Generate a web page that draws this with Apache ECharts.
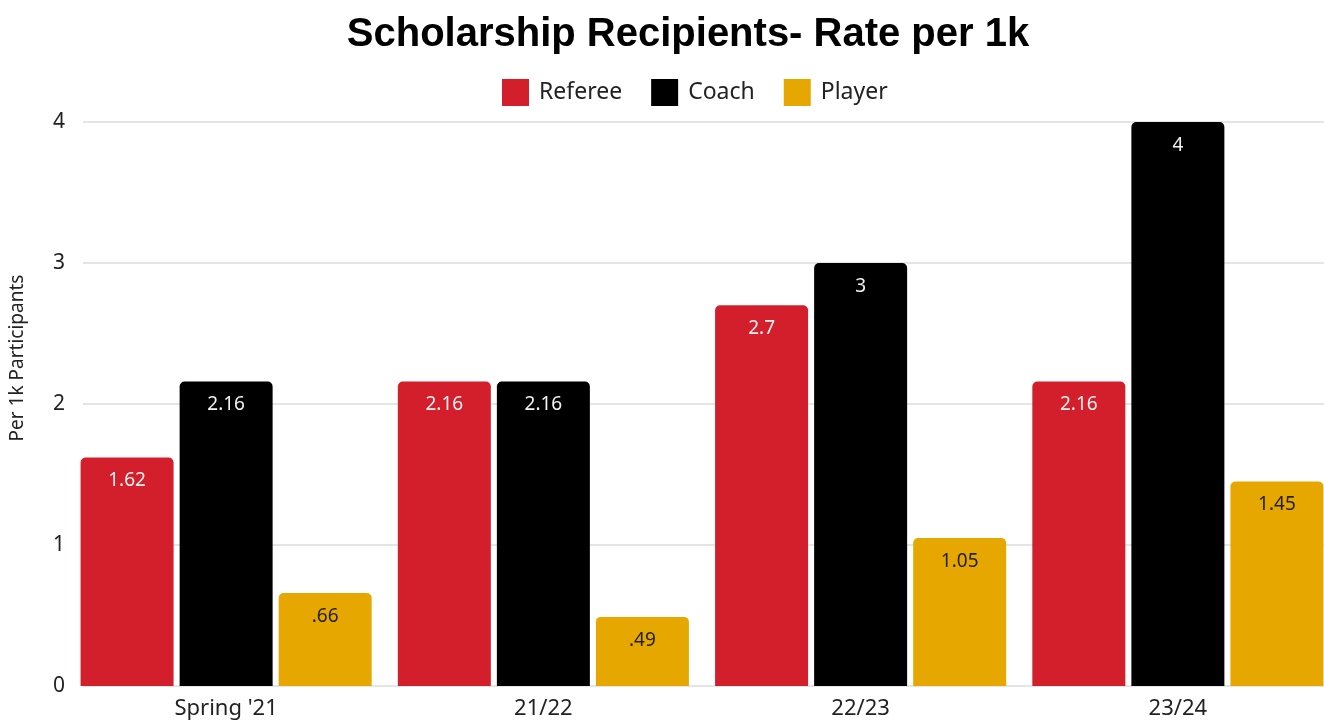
<!DOCTYPE html>
<html>
<head>
<meta charset="utf-8">
<script src="https://cdn.jsdelivr.net/npm/echarts@6/dist/echarts.min.js"></script>
<style>
html,body{margin:0;padding:0;background:#fff;}
#chart{width:1324px;height:725px;}
</style>
</head>
<body>
<div id="chart"></div>
<script>
const categories = ["Spring '21", "21/22", "22/23", "23/24"];
const referee = [1.62, 2.16, 2.7, 2.16];
const coach = [2.16, 2.16, 3, 4];
const player = [0.66, 0.49, 1.05, 1.45];
const refereeLabels = ["1.62", "2.16", "2.7", "2.16"];
const coachLabels = ["2.16", "2.16", "3", "4"];
const playerLabels = [".66", ".49", "1.05", "1.45"];
const yTicks = [0, 1, 2, 3, 4];
const titleText = 'Scholarship Recipients- Rate per 1k';

const chart = echarts.init(document.getElementById('chart'));
const font = "'Noto Sans', sans-serif";

function mk(name, data, labels, color, labelColor) {
  return {
    name: name, type: 'bar', xAxisIndex: 1, yAxisIndex: 1,
    data: data, barWidth: 93, barGap: '6.5%',
    itemStyle: { color: color, borderRadius: [5, 5, 0, 0] },
    label: {
      show: true, position: 'insideTop', distance: 14,
      color: labelColor, fontSize: 19, fontFamily: font,
      formatter: p => labels[p.dataIndex]
    }
  };
}

chart.setOption({
  animation: false,
  backgroundColor: '#fff',
  title: {
    text: titleText,
    left: 683, textAlign: 'center', top: 10,
    textStyle: { fontFamily: "'Liberation Sans', Arial, sans-serif", fontWeight: 'bold', fontSize: 40, color: '#000' }
  },
  legend: {
    top: 74, left: 497,
    itemWidth: 27, itemHeight: 27, itemGap: 29,
    icon: 'rect',
    textStyle: { fontFamily: font, fontSize: 23, color: '#222', padding: [0, 0, 0, 5] },
    data: ['Referee', 'Coach', 'Player']
  },
  grid: [
    { left: 80, right: 0, top: 122, bottom: 39 },
    { left: 67.5, width: 1269, top: 122, bottom: 39, outerBoundsMode: 'none' }
  ],
  xAxis: [
    { type: 'category', gridIndex: 0, data: categories, show: false },
    {
      type: 'category', gridIndex: 1, data: categories,
      axisLine: { show: false }, axisTick: { show: false },
      axisLabel: { fontFamily: font, fontSize: 22, color: '#222', margin: 12 }
    }
  ],
  yAxis: [
    {
      type: 'value', gridIndex: 0, min: yTicks[0], max: yTicks[yTicks.length - 1], interval: 1,
      axisLine: { show: false }, axisTick: { show: false },
      axisLabel: { fontFamily: font, fontSize: 21, color: '#222', margin: 18 },
      splitLine: { lineStyle: { color: '#dcdcdc', width: 1.5 } },
      name: 'Per 1k Participants', nameLocation: 'middle', nameGap: 56,
      nameTextStyle: { fontFamily: font, fontSize: 19, color: '#222', padding: [0, 0, 0, 92] }
    },
    {
      type: 'value', gridIndex: 1, min: 0, max: 4, interval: 1,
      show: false, splitLine: { show: false }
    }
  ],
  series: [
    mk('Referee', referee, refereeLabels, '#D31F2C', '#f2f2f2'),
    mk('Coach', coach, coachLabels, '#000000', '#f2f2f2'),
    mk('Player', player, playerLabels, '#E6A800', '#222222')
  ]
});
</script>
</body>
</html>
